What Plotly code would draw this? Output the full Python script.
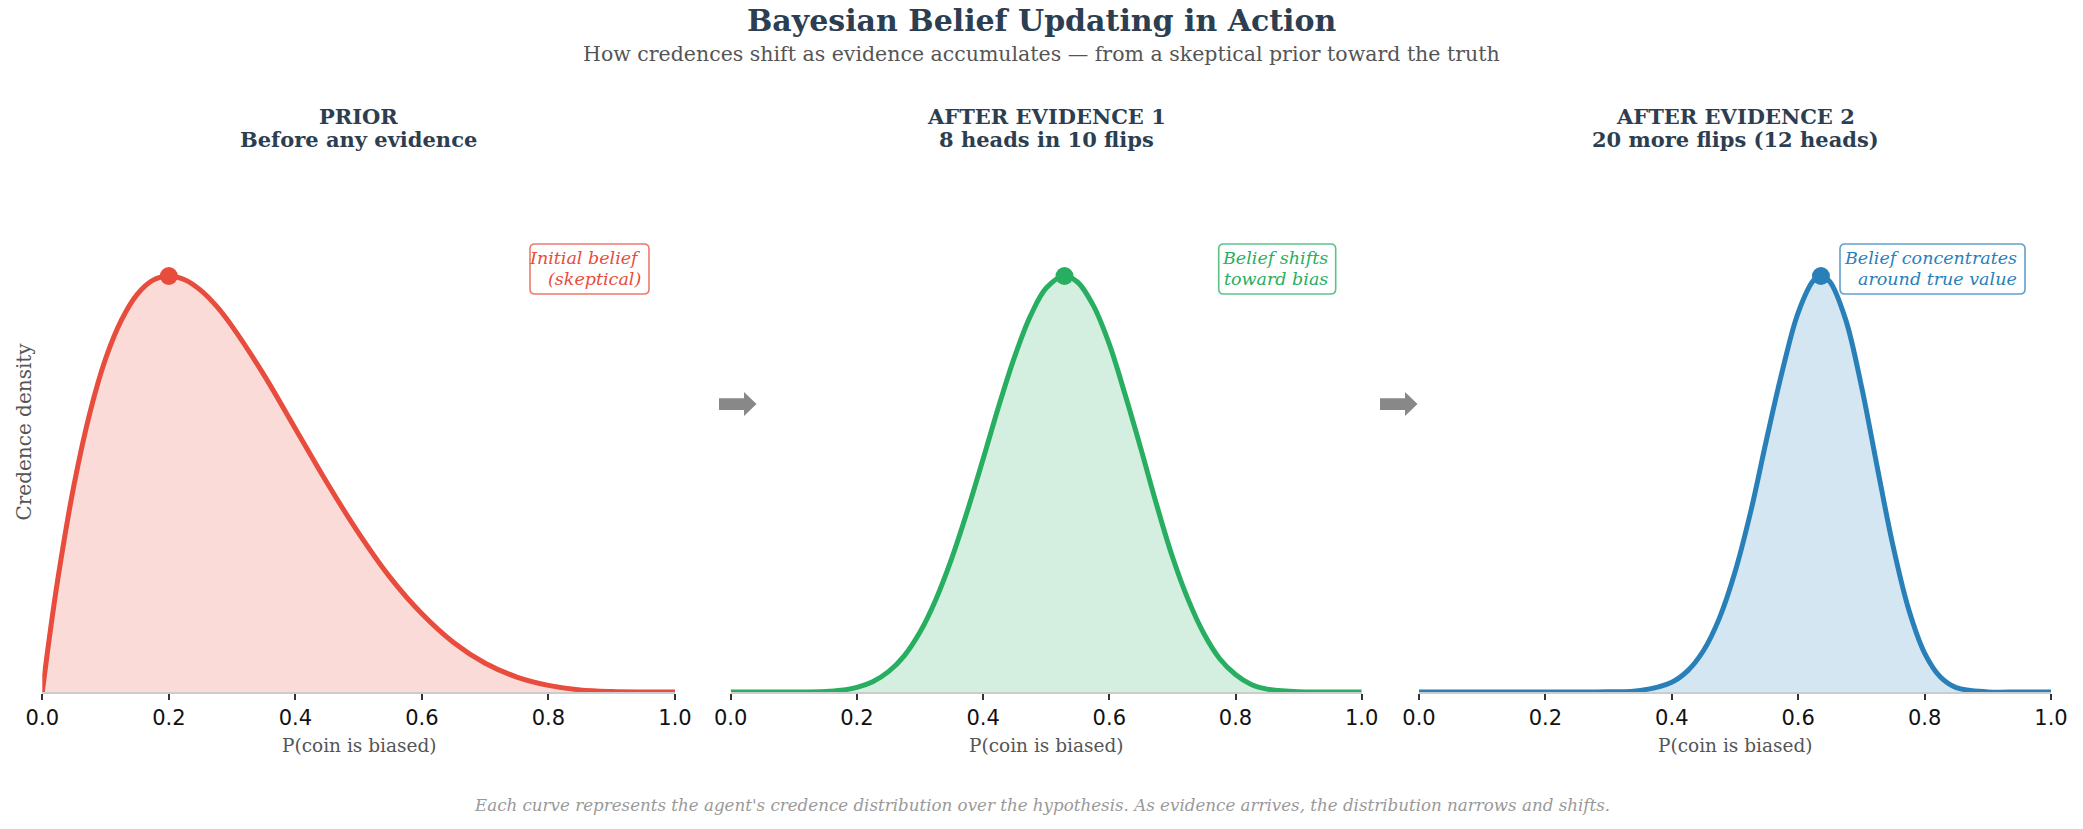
import plotly.graph_objects as go

# ---------------- data ----------------
x_prior = [0, 0.0125, 0.025, 0.05, 0.075, 0.1, 0.125, 0.15, 0.175, 0.2, 0.225, 0.25, 0.275,
           0.3, 0.35, 0.4, 0.45, 0.5, 0.55, 0.6, 0.65, 0.7, 0.75, 0.8, 0.85, 0.9, 0.95, 1.0]
y_prior = [0, 0.145, 0.276, 0.497, 0.670, 0.801, 0.894, 0.956, 0.990, 1.0, 0.991, 0.966, 0.928,
           0.879, 0.763, 0.633, 0.503, 0.382, 0.275, 0.188, 0.119, 0.069, 0.036, 0.016, 0.005, 0.001, 0.0, 0.0]

x_ev1 = [0, 0.05, 0.1, 0.15, 0.175, 0.2, 0.225, 0.25, 0.275, 0.3, 0.325, 0.35, 0.375, 0.4, 0.425,
         0.45, 0.475, 0.5, 0.529, 0.55, 0.575, 0.6, 0.625, 0.65, 0.675, 0.7, 0.725, 0.75, 0.775,
         0.8, 0.825, 0.85, 0.9, 0.95, 1.0]
y_ev1 = [0, 0, 0.0001, 0.0013, 0.0042, 0.011, 0.0245, 0.049, 0.087, 0.144, 0.222, 0.320, 0.435,
         0.560, 0.688, 0.806, 0.904, 0.971, 1.0, 0.985, 0.928, 0.836, 0.715, 0.585, 0.450, 0.325,
         0.222, 0.140, 0.080, 0.042, 0.018, 0.007, 0.0005, 0, 0]

x_ev2 = [0, 0.1, 0.2, 0.3, 0.35, 0.4, 0.425, 0.45, 0.475, 0.5, 0.525, 0.55, 0.575, 0.6, 0.625,
         0.636, 0.65, 0.675, 0.7, 0.725, 0.75, 0.775, 0.8, 0.825, 0.85, 0.9, 0.95, 1.0]
y_ev2 = [0, 0, 0, 0.0004, 0.0038, 0.0237, 0.0509, 0.0991, 0.1765, 0.2885, 0.4344, 0.6079, 0.7725,
         0.9122, 0.9909, 1.0, 0.9867, 0.8957, 0.7357, 0.5411, 0.3514, 0.1976, 0.0936, 0.0360,
         0.0106, 0.0003, 0, 0]

peak_x = [0.2, 0.529, 0.636]
peak_y = [1.0, 1.0, 1.0]

panel_titles = ["PRIOR", "AFTER EVIDENCE 1", "AFTER EVIDENCE 2"]
panel_subtitles = ["Before any evidence", "8 heads in 10 flips", "20 more flips (12 heads)"]
notes = [["Initial belief", "(skeptical)"], ["Belief shifts", "toward bias"],
         ["Belief concentrates", "around true value"]]
tick_vals = [0.0, 0.2, 0.4, 0.6, 0.8, 1.0]
tick_text = ["0.0", "0.2", "0.4", "0.6", "0.8", "1.0"]

# ---------------- styling ----------------
W, H = 2083, 829
def px(x):
    return x / W
def py(y):
    return 1 - y / H

colors = ["#E74C3C", "#27AE60", "#2980B9"]
fills = ["rgba(231,76,60,0.2)", "rgba(39,174,96,0.2)", "rgba(41,128,185,0.2)"]
borders = ["rgba(231,76,60,0.75)", "rgba(39,174,96,0.75)", "rgba(41,128,185,0.75)"]
dom_px = [(42.3, 675.0), (730.7, 1361.7), (1419.0, 2051.0)]
box_w = [119, 117, 185]
y_dom = [py(692), py(172)]
SERIF = "DejaVu Serif"
SANS = "DejaVu Sans"
DARK = "#2C3E50"

series = [(x_prior, y_prior), (x_ev1, y_ev1), (x_ev2, y_ev2)]

fig = go.Figure()
for i, (xs, ys) in enumerate(series):
    ax = "" if i == 0 else str(i + 1)
    fig.add_trace(go.Scatter(
        x=xs, y=ys, mode="lines", xaxis="x" + ax, yaxis="y" + ax,
        line=dict(color=colors[i], width=5, shape="spline", smoothing=1.0),
        fill="tozeroy", fillcolor=fills[i], hoverinfo="skip", showlegend=False))
    fig.add_trace(go.Scatter(
        x=[peak_x[i]], y=[peak_y[i]], mode="markers", xaxis="x" + ax, yaxis="y" + ax,
        marker=dict(size=18, color=colors[i]), cliponaxis=False,
        hoverinfo="skip", showlegend=False))

layout = dict(
    width=W, height=H, autosize=False, margin=dict(l=0, r=0, t=0, b=0, pad=0),
    paper_bgcolor="white", plot_bgcolor="white", showlegend=False,
)
annotations = []
shapes = []
for i in range(3):
    ax = "" if i == 0 else str(i + 1)
    x0, x1 = dom_px[i]
    layout["xaxis" + ax] = dict(
        domain=[px(x0), px(x1)], range=[0, 1], anchor="y" + ax, automargin=False,
        showline=True, linecolor="#CCCCCC", linewidth=2,
        ticks="outside", ticklen=6, tickwidth=1.6, tickcolor="#333333",
        tickvals=tick_vals, ticktext=tick_text,
        tickfont=dict(family=SANS, size=21, color="#111111"),
        showgrid=False, zeroline=False, layer="below traces", fixedrange=True)
    layout["yaxis" + ax] = dict(
        domain=y_dom, range=[0, 1.25], anchor="x" + ax, visible=False, automargin=False,
        showgrid=False, zeroline=False, fixedrange=True)
    cx = (x0 + x1) / 2
    annotations.append(dict(text="<b>" + panel_titles[i] + "</b>", x=px(cx), y=py(116),
                            xref="paper", yref="paper", xanchor="center", yanchor="middle",
                            showarrow=False, font=dict(family=SERIF, size=21, color=DARK)))
    annotations.append(dict(text="<b>" + panel_subtitles[i] + "</b>", x=px(cx), y=py(139.5),
                            xref="paper", yref="paper", xanchor="center", yanchor="middle",
                            showarrow=False, font=dict(family=SERIF, size=21, color=DARK)))
    annotations.append(dict(text="P(coin is biased)", x=px(cx), y=py(745),
                            xref="paper", yref="paper", xanchor="center", yanchor="middle",
                            showarrow=False, font=dict(family=SERIF, size=18.5, color="#555555")))
    # note box (rounded)
    bx1 = x1 - 26
    bx0 = bx1 - box_w[i]
    by0, by1 = 244, 294
    r = 5
    pts = (f"M {px(bx0 + r)},{py(by0)} L {px(bx1 - r)},{py(by0)} "
           f"Q {px(bx1)},{py(by0)} {px(bx1)},{py(by0 + r)} L {px(bx1)},{py(by1 - r)} "
           f"Q {px(bx1)},{py(by1)} {px(bx1 - r)},{py(by1)} L {px(bx0 + r)},{py(by1)} "
           f"Q {px(bx0)},{py(by1)} {px(bx0)},{py(by1 - r)} L {px(bx0)},{py(by0 + r)} "
           f"Q {px(bx0)},{py(by0)} {px(bx0 + r)},{py(by0)} Z")
    shapes.append(dict(type="path", path=pts, xref="paper", yref="paper",
                       line=dict(color=borders[i], width=1.6), fillcolor="white", layer="above"))
    for j, line in enumerate(notes[i]):
        annotations.append(dict(text="<i>" + line + "</i>", x=px(bx1 - 6), y=py(258 + 20.5 * j),
                                xref="paper", yref="paper", xanchor="right", yanchor="middle",
                                showarrow=False, font=dict(family=SERIF, size=17.5, color=colors[i])))

# arrows between panels
for ax0 in (719.0, 1380.0):
    pts = [(ax0, 398.3), (ax0 + 25, 398.3), (ax0 + 25, 392), (ax0 + 37.5, 404),
           (ax0 + 25, 416), (ax0 + 25, 410), (ax0, 410)]
    path = "M " + " L ".join(f"{px(a)},{py(b)}" for a, b in pts) + " Z"
    shapes.append(dict(type="path", path=path, xref="paper", yref="paper",
                       line=dict(width=0), fillcolor="#888888", layer="above"))

annotations += [
    dict(text="<b>Bayesian Belief Updating in Action</b>", x=0.5, y=py(20), xref="paper",
         yref="paper", xanchor="center", yanchor="middle", showarrow=False,
         font=dict(family=SERIF, size=30, color=DARK)),
    dict(text="How credences shift as evidence accumulates \u2014 from a skeptical prior toward the truth",
         x=0.5, y=py(53.5), xref="paper", yref="paper", xanchor="center", yanchor="middle",
         showarrow=False, font=dict(family=SERIF, size=20.5, color="#555555")),
    dict(text="Credence density", x=px(23.5), y=py(432), xref="paper", yref="paper",
         xanchor="center", yanchor="middle", textangle=-90, showarrow=False,
         font=dict(family=SERIF, size=20, color="#555555")),
    dict(text="<i>Each curve represents the agent's credence distribution over the hypothesis. "
              "As evidence arrives, the distribution narrows and shifts.</i>",
         x=0.5, y=py(805), xref="paper", yref="paper", xanchor="center", yanchor="middle",
         showarrow=False, font=dict(family=SERIF, size=16.7, color="#999999")),
]
layout["annotations"] = annotations
layout["shapes"] = shapes
fig.update_layout(**layout)

fig.write_html("out.html", config={"displayModeBar": False, "responsive": False},
               post_script="document.body.style.margin='0';document.body.style.overflow='hidden';")
